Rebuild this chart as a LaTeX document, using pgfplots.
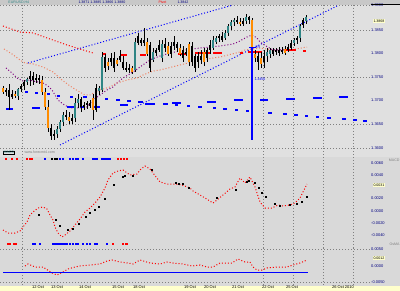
\documentclass[border=0pt]{standalone}
\usepackage{fontspec}
\setmainfont{Liberation Sans}
\usepackage{pgfplots}
\pgfplotsset{compat=1.18}
\usepackage{pgfplotstable}
\definecolor{bgmain}{HTML}{E0E0E0}
\definecolor{bglow}{HTML}{D9D9D9}
\definecolor{bghead}{HTML}{C8C8C8}
\definecolor{yelc}{HTML}{FFFFCC}
\definecolor{gridc}{HTML}{808080}
\definecolor{navyc}{HTML}{000080}
\definecolor{tealc}{HTML}{2F8585}
\definecolor{orangec}{HTML}{FF8C00}
\definecolor{redc}{HTML}{FF0000}
\definecolor{salmonc}{HTML}{F08060}
\definecolor{purplec}{HTML}{800080}
\definecolor{bluec}{HTML}{0000FF}

% candles: x, high, low, open, close (vertical values in chart pixel units, smaller = higher price)
\pgfplotstableread{
x hi lo o c
18 88 100 96 89
27 78 85 82 79
57 126 138 134 129
60 120 132 129 122
63 112 126 122 115
75 98 122 118 103
78 94 108 103 99
99 86 95 91 88
102 52 92 90 57
135 38 72 70 42
153 48 62 60 52
162 40 62 58 44
213 36 50 48 40
216 36 44 42 38
225 30 40 38 33
228 24 36 33 26
231 20 30 26 22
234 18 26 22 20
246 14 24 21 17
267 48 62 56 52
270 48 58 54 50
294 38 46 43 40
300 24 42 38 26
306 15 24 21 17
}\candT
\pgfplotstableread{
x hi lo o c
3 86 94 88 92
15 91 98 94 96
42 76 95 80 92
45 88 110 92 107
48 100 132 107 128
69 112 124 117 121
93 94 120 98 110
108 58 70 62 66
117 58 66 60 64
132 66 74 68 72
147 38 56 42 54
168 42 56 46 54
180 44 56 48 54
189 42 66 44 62
204 48 66 52 62
240 18 26 22 24
252 18 58 20 54
255 50 62 54 58
261 52 68 58 64
285 46 55 49 53
}\candO
\pgfplotstableread{
x hi lo o c
6 88 96 92 90
9 84 110 90 97
12 90 99 97 94
21 84 92 89 86
24 80 90 86 82
30 71 86 79 76
33 72 85 76 80
36 74 83 80 78
39 75 84 78 80
51 124 140 128 136
54 130 140 136 134
66 110 120 115 117
72 114 124 121 118
81 97 112 99 107
84 102 110 107 105
87 101 109 105 103
90 100 108 103 106
96 84 112 110 88
105 54 72 57 68
111 53 66 62 58
114 52 72 58 68
120 50 62 60 56
123 56 70 62 68
126 62 72 68 70
129 64 73 70 68
138 33 45 36 43
141 38 46 40 43
144 28 46 43 40
150 42 72 45 68
156 48 56 53 50
159 40 52 50 45
165 38 52 44 48
171 42 58 54 46
174 36 50 46 42
177 42 52 44 48
183 46 62 50 58
186 48 56 54 52
192 42 66 46 62
195 54 72 56 68
198 52 68 62 56
201 50 64 56 60
207 48 62 50 58
210 40 54 50 45
219 34 42 38 36
222 32 42 40 36
237 16 24 20 22
243 18 26 24 21
249 16 24 17 20
258 52 70 56 62
264 50 68 62 56
273 48 56 50 54
276 48 55 52 50
279 47 56 50 53
282 47 54 50 52
288 44 52 50 47
291 40 50 48 43
297 36 44 40 38
303 18 28 25 20
}\candK

\tikzset{tinytxt/.style={font=\fontsize{3.6}{3.6}\selectfont, inner sep=0.3bp}}
\pgfplotsset{
  panel/.style={scale only axis, width=370bp, xmin=0, xmax=370, y dir=reverse,
    anchor=south west, axis line style={draw=none}, major tick length=0pt,
    xmajorgrids, ymajorgrids,
    grid style={gridc, line width=0.7bp, dash pattern=on 0.7bp off 2.3bp},
    yticklabel pos=right, xtick={22,263,293,323,353}, xticklabels={},
    tick label style={font=\fontsize{4}{4}\selectfont, text=navyc, inner sep=1bp},
    /pgf/number format/assume math mode=true},
  wick/.style={only marks, mark=*, mark size=0pt, mark options={draw=none, fill=none},
    forget plot, error bars/.cd, y dir=both,
    y explicit, error mark=none, error bar style={black, line width=0.6bp}},
  body/.style={only marks, mark=*, mark size=0pt, mark options={draw=none, fill=none},
    forget plot, error bars/.cd, y dir=both,
    y explicit, error mark=none, error bar style={#1, line width=2bp}},
  mtdot/.style={#1, line width=1bp, dash pattern=on 1bp off 2bp},
}

\begin{document}
\begin{tikzpicture}
\path[use as bounding box] (0,0) rectangle (400bp,291bp);
\fill[bgmain] (0,0) rectangle (400bp,291bp);
\fill[bglow] (0,5bp) rectangle (400bp,134bp);
\fill[bghead] (0,286bp) rectangle (400bp,291bp);
\fill[yelc] (0,0) rectangle (400bp,4.5bp);

% ---------------- main price panel ----------------
\begin{axis}[panel, at={(0,143bp)}, height=143bp, ymin=5, ymax=148,
  ytick={5,30,77,124,148},
  yticklabels={1.3900,1.3850,1.3750,1.3650,1.3600},
  extra y ticks={53,100}, extra y tick labels={1.3800,1.3700},
  extra y tick style={grid=none}]
  % channel
  \addplot[mtdot=bluec] coordinates {(28,63) (233,5)};
  \addplot[mtdot=bluec] coordinates {(60,145) (337,6)};
  % moving averages
  \addplot[mtdot=redc] coordinates {(3,26) (20,32) (33,33) (50,39) (67,45) (80,49) (93,53)};
  \addplot[mtdot=salmonc] coordinates {(4,49) (12,54) (20,60) (25,63) (33,64) (43,67) (53,72) (62,80) (70,86) (78,91) (85,95) (90,95) (100,90) (110,87) (117,83) (127,80) (137,78) (143,75) (153,71) (160,70) (180,65) (200,60) (220,57) (240,52) (245,50) (260,48) (273,50) (290,50) (307,47)};
  \addplot[mtdot=purplec] coordinates {(6,68) (12,73) (17,78) (23,81) (30,80) (33,81) (43,83) (48,86) (52,90) (55,95) (58,100) (63,104) (70,108) (77,108) (82,108) (87,107) (93,100) (100,95) (107,90) (113,87) (118,82) (123,78) (128,75) (133,72) (140,67) (147,62) (152,59) (160,56) (170,53) (185,50) (200,48) (220,46) (233,44) (238,42) (247,37) (252,35) (257,38) (260,42) (266,46) (273,50) (280,50) (290,50)};
  % red level segments
  \addplot[redc, line width=1.1bp, unbounded coords=jump] coordinates {
    (102,54) (106,54) (106,nan) (121,55) (127,55) (127,nan) (140,55) (146,55) (146,nan)
    (178,54) (187,54) (187,nan) (195,53) (210,53) (210,nan) (213,53) (222,53) (222,nan)
    (240,53) (243,53) (243,nan) (248,52) (262,52) (262,nan) (284,50) (296,50) (296,nan)
    (303,51) (306,51)};
  % blue pivot dashes
  \addplot[bluec, line width=1.1bp, unbounded coords=jump] coordinates {
    (6,109) (13,109) (13,nan) (25,92) (28,92) (28,nan) (35,93) (38,93) (38,nan)
    (32,108) (40,108) (40,nan) (47,94) (50,94) (50,nan) (57,96) (60,96) (60,nan)
    (70,97) (73,97) (73,nan) (67,107) (75,107) (75,nan) (83,97) (87,97) (87,nan)
    (80,107) (85,107) (85,nan) (95,98) (97,98) (97,nan) (93,107) (100,107) (100,nan)
    (105,99) (108,99) (108,nan) (116,100) (120,100) (120,nan) (120,105) (128,105) (128,nan)
    (127,101) (131,101) (131,nan) (138,102) (143,102) (143,nan) (145,104) (155,104) (155,nan)
    (163,104) (168,104) (168,nan) (172,103) (181,103) (181,nan) (175,105) (178,105) (178,nan)
    (187,106) (190,106) (190,nan) (198,107) (202,107) (202,nan) (207,102) (216,102) (216,nan)
    (213,108) (216,108) (216,nan) (223,109) (227,109) (227,nan) (234,100) (243,100) (243,nan)
    (235,110) (238,110) (238,nan) (246,111) (249,111) (249,nan) (260,100) (268,100) (268,nan)
    (268,113) (272,113) (272,nan) (283,114) (287,114) (287,nan) (286,99) (295,99) (295,nan)
    (294,115) (298,115) (298,nan) (305,116) (308,116) (308,nan) (313,98) (322,98) (322,nan)
    (316,117) (319,117) (319,nan) (327,118) (331,118) (331,nan) (339,97) (348,97) (348,nan)
    (342,119) (346,119) (346,nan) (353,120) (357,120) (357,nan) (363,121) (367,121)};
  % candles: wicks
  \addplot[wick] table[x=x, y expr={(\thisrow{hi}+\thisrow{lo})/2}, y error expr={(\thisrow{lo}-\thisrow{hi})/2}] {\candT};
  \addplot[wick] table[x=x, y expr={(\thisrow{hi}+\thisrow{lo})/2}, y error expr={(\thisrow{lo}-\thisrow{hi})/2}] {\candO};
  \addplot[wick] table[x=x, y expr={(\thisrow{hi}+\thisrow{lo})/2}, y error expr={(\thisrow{lo}-\thisrow{hi})/2}] {\candK};
  % candles: bodies
  \addplot[body=tealc] table[x=x, y expr={(\thisrow{o}+\thisrow{c})/2}, y error expr={abs(\thisrow{o}-\thisrow{c})/2}] {\candT};
  \addplot[body=orangec] table[x=x, y expr={(\thisrow{o}+\thisrow{c})/2}, y error expr={abs(\thisrow{o}-\thisrow{c})/2}] {\candO};
  \addplot[body=black] table[x=x, y expr={(\thisrow{o}+\thisrow{c})/2}, y error expr={abs(\thisrow{o}-\thisrow{c})/2}] {\candK};
  % vertical marker
  \addplot[bluec, line width=1.2bp] coordinates {(252,47) (252,140)};
  \addplot[bluec, line width=1bp] coordinates {(249,48) (256,48)};
  \node[tinytxt, text=bluec, anchor=west] at (axis cs:254,79) {1.3456};
  \node[tinytxt, text=bluec, anchor=west] at (axis cs:255,47) {TH};
\end{axis}

% ---------------- oscillator panel ----------------
\begin{axis}[panel, at={(0,43bp)}, height=100bp, ymin=148, ymax=248,
  ytick={148}, yticklabels={},
  extra y ticks={163,175,198,211,223,235},
  extra y tick labels={0.0060,0.0040,0.0020,0.0000,-0.0020,-0.0040},
  extra y tick style={grid=none}]
  \addplot[mtdot=redc] coordinates {(3,230) (8,233) (15,233) (20,231) (23,227) (27,222) (30,215) (33,212) (38,208) (43,207) (47,209) (50,215) (53,220) (55,227) (58,233) (62,237) (65,235) (70,231) (75,225) (80,219) (85,212) (90,208) (95,203) (100,197) (105,188) (108,180) (113,173) (118,171) (123,170) (130,175) (137,174) (140,170) (145,166) (150,169) (153,173) (160,182) (167,184) (175,184) (182,185) (190,188) (193,191) (200,195) (205,198) (213,203) (217,200) (223,195) (230,189) (235,187) (240,178) (245,183) (250,177) (255,187) (260,202) (265,208) (272,208) (278,205) (283,206) (290,205) (295,203) (300,198) (305,188) (307,184)};
  \addplot[only marks, mark=square*, mark size=0.5bp, black] coordinates {(39,215) (56,220) (60,226) (68,230) (73,229) (79,224) (86,217) (90,213) (95,210) (99,207) (105,199) (114,185) (123,177) (125,176) (133,176) (152,170) (176,183) (179,184) (183,184) (189,188) (217,198) (236,190) (247,182) (249,181) (255,183) (259,188) (262,193) (266,197) (275,204) (280,206) (290,205) (297,204) (302,202) (307,197)};
  % signal rows
  \addplot[only marks, mark=square*, mark size=0.6bp, redc] coordinates {(6,159) (12,159) (17,159) (27,159) (30,159) (32,159) (118,159) (121,159) (124,159) (127,159) (8,244) (10,244) (14,244) (16,244) (113,244) (123,244) (126,244) (127,244)};
  \addplot[only marks, mark=square*, mark size=0.6bp, bluec] coordinates {(45,159) (60,159) (63,159) (70,159) (73,159) (76,159) (78,159) (83,159) (93,159) (95,159) (97,159) (102,159) (104,159) (106,159) (108,159) (110,159) (33,244) (35,244) (40,244) (53,244) (55,244) (57,244) (59,244) (61,244) (63,244) (65,244) (67,244) (70,244) (73,244) (76,244) (78,244) (83,244) (87,244) (90,244) (95,244) (97,244) (107,244)};
  \addplot[only marks, mark=square*, mark size=0.5bp, black] coordinates {(52,159) (55,159) (57,159)};
\end{axis}

% ---------------- lower panel ----------------
\begin{axis}[panel, at={(0,5bp)}, height=38bp, ymin=248, ymax=286,
  ytick={249,282}, yticklabels={0.0050,-0.0050},
  extra y ticks={266}, extra y tick labels={0.0000},
  extra y tick style={grid=none},
  xmajorgrids=false, xtick={38,57,85,118,139,190,210,238,268,292,343},
  xticklabels={12 Oct,13 Oct,14 Oct,15 Oct,18 Oct,19 Oct,20 Oct,21 Oct,22 Oct,25 Oct,26 Oct 2010},
  xticklabel style={text=black, yshift=1bp},
  extra x ticks={22,263,293,323,353}, extra x tick labels={},
  extra x tick style={xmajorgrids=true}]
  \addplot[mtdot=redc] coordinates {(25,266) (28,264) (35,267) (43,267) (52,273) (57,275) (63,272) (68,269) (75,267) (80,266) (90,265) (100,264) (107,261) (112,260) (120,262) (128,263) (133,264) (140,260) (150,263) (160,264) (167,262) (173,263) (183,264) (192,266) (200,265) (207,267) (213,267) (220,263) (225,263) (232,263) (238,259) (245,262) (250,262) (253,267) (257,270) (262,270) (267,268) (277,267) (287,267) (293,265) (300,263) (307,260)};
  \addplot[bluec, line width=1bp] coordinates {(3,272) (308,272)};
\end{axis}

% ---------------- decorations outside the plot areas ----------------
\draw[black, line width=1bp] (371bp,286bp) -- (400bp,286bp);
\node[tinytxt, fill=yelc, text=black, anchor=west] at (373bp,270bp) {1.3868};
\node[tinytxt, fill=yelc, text=black, anchor=west] at (373bp,106bp) {0.0031};
\node[tinytxt, fill=yelc, text=black, anchor=west] at (373bp,33bp) {0.0012};
\node[tinytxt, text=gray, anchor=east] at (400bp,131bp) {MACD};
\node[tinytxt, text=gray, anchor=east] at (400bp,47bp) {OsMA};
\node[tinytxt, draw=black, line width=0.5bp, fill=bgmain, text=tealc, anchor=west] at (3bp,138.5bp) {MACD};
\node[tinytxt, text=gray, anchor=west] at (24bp,138.5bp) {www.forexmt4.com};
\node[tinytxt, text=tealc, anchor=west] at (8bp,288.5bp) {EURUSD,H4};
\node[tinytxt, text=navyc, anchor=west] at (78bp,288.5bp) {1.3871 1.3885 1.3866 1.3880};
\node[tinytxt, text=redc, anchor=west] at (158bp,288.5bp) {Pivot};
\node[tinytxt, text=navyc, anchor=west] at (177bp,288.5bp) {1.3842};
\end{tikzpicture}
\end{document}
